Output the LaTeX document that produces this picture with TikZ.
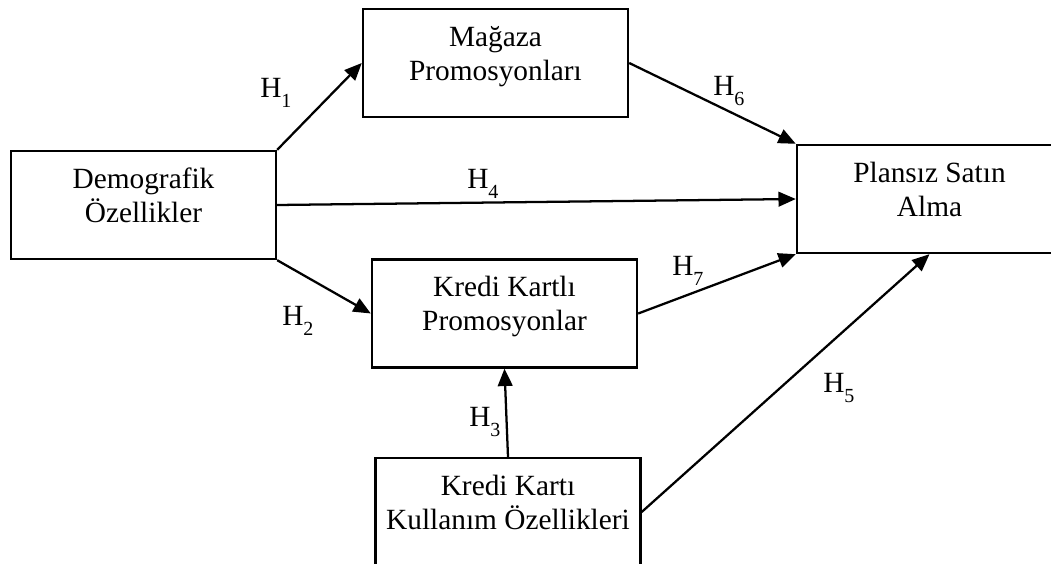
\documentclass[tikz,border=0pt]{standalone}
\usepackage{fontspec}
\setmainfont{Liberation Serif}
\usetikzlibrary{arrows.meta}
\newcommand\twolines[1]{\begin{tabular}[t]{@{}c@{}}#1\end{tabular}}
\newcommand\hyp[1]{H\raisebox{-7.5pt}{\fontsize{15}{15}\selectfont #1}}
\tikzset{
  box/.style={draw, line width=1.8pt, inner sep=0pt, minimum width=198.75pt,
    text height=27.75pt, text depth=53.25pt,
    font=\fontsize{22}{25.5}\selectfont},
  lab/.style={inner sep=0pt, anchor=base west, font=\fontsize{22}{25.5}\selectfont},
  arr/.style={line width=1.7pt, -{Triangle[length=13pt,width=11pt]}}
}
\begin{document}
\begin{tikzpicture}[x=0.75pt,y=-0.75pt]
\clip (0,0) rectangle (1051,564);
\node[box] (dem) at (143.5,205) {\twolines{Demografik\\Özellikler}};
\node[box] (mag) at (495.5,63) {\twolines{Mağaza\\Promosyonları}};
\node[box] (kkp) at (504.5,313.5) {\twolines{Kredi Kartlı\\Promosyonlar}};
\node[box] (kku) at (508,512) {\twolines{Kredi Kartı\\Kullanım Özellikleri}};
\node[box] (pln) at (929.5,199) {\twolines{Plansız Satın\\Alma}};

\draw[arr] (dem.north east) -- (mag.west);
\draw[arr] (dem.south east) -- (kkp.west);
\draw[arr] (dem.east) -- (pln.west);
\draw[arr] (mag.east) -- (pln.north west);
\draw[arr] (kkp.east) -- (pln.south west);
\draw[arr] (kku.east) -- (pln.south);
\draw[arr] (kku.north) -- (kkp.south);

\node[lab] (h1) at (260,97) {\hyp{1}};
\node[lab] (h2) at (282,325) {\hyp{2}};
\node[lab] (h3) at (469,426) {\hyp{3}};
\node[lab] (h4) at (467,188) {\hyp{4}};
\node[lab] (h5) at (823,392) {\hyp{5}};
\node[lab] (h6) at (713,95) {\hyp{6}};
\node[lab] (h7) at (672,275) {\hyp{7}};
\end{tikzpicture}
\end{document}
